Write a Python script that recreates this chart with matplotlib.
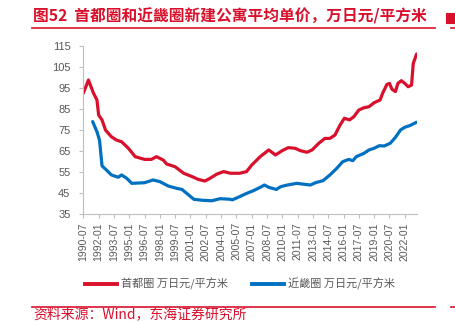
import pandas as pd
import matplotlib
matplotlib.use('Agg')
import matplotlib.pyplot as plt
from matplotlib.lines import Line2D

plt.rcParams['font.family'] = ['Noto Sans CJK SC', 'DejaVu Sans']

# 首都圈 (万日元/平方米)
tokyo_dates = ['1990-07','1991-01','1991-07','1991-11','1992-01','1992-05','1992-09','1993-04','1993-10',
               '1994-04','1994-12','1995-08','1996-07','1997-03','1997-09','1998-05','1998-09','1999-07',
               '2000-05','2001-03','2001-10','2002-06','2002-12','2003-08','2004-04','2004-12','2005-11',
               '2006-07','2007-01','2007-11','2008-09','2009-05','2010-01','2010-08','2011-04','2011-10',
               '2012-06','2012-12','2013-08','2014-03','2014-09','2015-03','2015-09','2016-02','2016-08',
               '2017-01','2017-07','2018-01','2018-07','2019-01','2019-08','2019-11','2020-04','2020-07',
               '2020-10','2021-02','2021-05','2021-09','2022-01','2022-05','2022-09','2022-11','2023-03']
tokyo_vals = [92.5,98.8,92.5,89.3,82.1,79.8,75.0,71.8,70.2,
              69.4,66.3,62.3,61.0,61.0,62.3,60.7,58.8,57.5,
              54.4,52.8,51.5,50.7,52.0,54.0,55.2,54.4,54.4,
              55.2,58.3,62.3,65.5,63.1,65.2,66.6,66.3,65.2,
              64.4,65.5,68.7,71.0,71.0,72.6,77.4,80.6,79.8,
              81.3,84.5,85.6,86.1,88.0,89.3,92.5,96.7,97.2,
              94.4,93.3,97.2,98.5,97.2,95.6,96.4,106.7,111.2]

# 近畿圈 (万日元/平方米)
kinki_dates = ['1991-06','1991-11','1992-02','1992-05','1992-10','1993-04','1993-12','1994-04','1994-10',
               '1995-04','1996-07','1997-05','1998-01','1998-11','1999-09','2000-03','2000-11','2001-05',
               '2002-04','2003-02','2003-12','2004-12','2005-02','2005-11','2006-07','2007-03','2007-11',
               '2008-04','2008-09','2009-06','2009-11','2010-07','2011-06','2012-10','2013-04','2014-01',
               '2014-09','2015-05','2015-12','2016-07','2016-12','2017-04','2018-01','2018-07','2019-01',
               '2019-07','2020-01','2020-08','2021-02','2021-08','2022-01','2022-07','2023-03']
kinki_vals = [79.0,74.2,70.2,57.9,56.0,53.6,52.5,53.6,52.0,
              49.6,49.9,51.2,50.4,48.3,47.2,46.7,44.0,42.0,
              41.5,41.3,42.3,42.0,41.7,43.3,44.8,46.1,47.7,
              48.8,47.7,46.7,48.0,48.8,49.6,48.8,49.9,50.9,
              53.6,56.7,59.9,61.0,60.4,62.3,63.9,65.5,66.3,
              67.5,67.4,68.7,71.5,75.0,76.3,77.1,78.7]

title = '图52  首都圈和近畿圈新建公寓平均单价，万日元/平方米'
source = '资料来源：Wind，东海证券研究所'
labels = ['首都圈 万日元/平方米', '近畿圈 万日元/平方米']

red, blue, grey = '#d9102c', '#0070c0', '#595959'

fig = plt.figure(figsize=(4.56, 3.22), dpi=100)
ax = fig.add_axes([83/456, 1-214/322, (417-83)/456, (214-46)/322])
ax.plot(pd.to_datetime(tokyo_dates), tokyo_vals, color=red, lw=2.3, solid_capstyle='round')
ax.plot(pd.to_datetime(kinki_dates), kinki_vals, color=blue, lw=2.3, solid_capstyle='round')

ax.set_ylim(35, 115)
ax.set_yticks(range(35, 116, 10))
xt = pd.date_range('1990-07-01', '2022-01-01', freq='18MS')
ax.set_xticks(xt)
ax.set_xticklabels([d.strftime('%Y-%m') for d in xt], rotation=90, family='Liberation Sans', fontsize=7.5, color=grey)
ax.set_xlim(pd.Timestamp('1990-06-20'), pd.Timestamp('2023-03-15'))
for l in ax.get_yticklabels():
    l.set_family('Liberation Sans'); l.set_fontsize(8); l.set_color(grey)
for s in ('top', 'right'):
    ax.spines[s].set_visible(False)
for s in ('left', 'bottom'):
    ax.spines[s].set_color('#bfbfbf'); ax.spines[s].set_linewidth(0.8)
ax.tick_params(axis='both', color='#bfbfbf', length=3, width=0.8)
ax.tick_params(axis='y', pad=6)
ax.tick_params(axis='x', pad=3)

handles = [Line2D([], [], color=red, lw=2.8), Line2D([], [], color=blue, lw=2.8)]
fig.legend(handles, labels, loc='center', bbox_to_anchor=(240/456, 1-284/322), ncol=2, frameon=False,
           fontsize=8, handlelength=2.9, handletextpad=0.3, columnspacing=2.2, labelcolor=grey)

fig.text(33/456, 1-16/322, title, color=red, fontsize=11.3, fontweight='bold', va='center', ha='left')
fig.add_artist(Line2D([32/456, 435/456], [1-27.5/322]*2, color=red, lw=1.2))
fig.add_artist(Line2D([451/456, 456/456], [1-27.5/322]*2, color=red, lw=1.2))
fig.add_artist(Line2D([451/456, 452/456], [1-18/322]*2, color=red, lw=8))
fig.add_artist(Line2D([32/456, 435/456], [1-306.5/322]*2, color=red, lw=1.2))
fig.add_artist(Line2D([451/456, 456/456], [1-306.5/322]*2, color=red, lw=1.2))
fig.text(33/456, 1-321/322, source, color=red, fontsize=10, va='bottom', ha='left')

fig.savefig('out.png', dpi=100)
